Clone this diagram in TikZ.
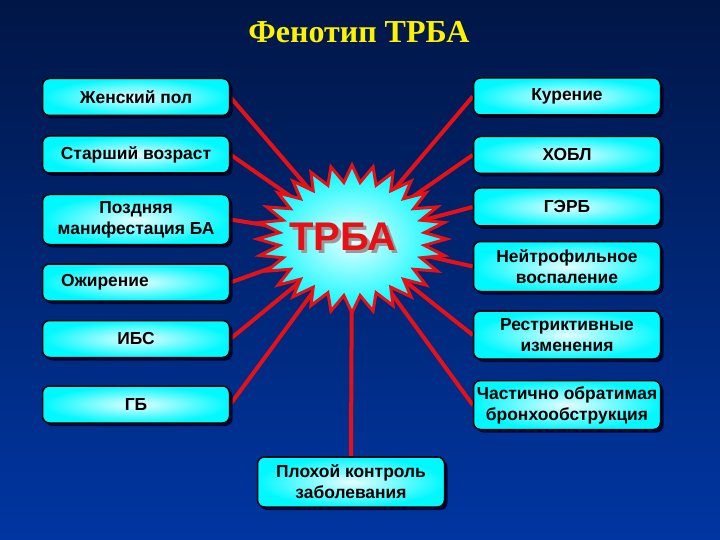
\documentclass[tikz,border=0pt]{standalone}
\usepackage{fontspec}
\setmainfont{Liberation Sans}
\newfontfamily\titlefont{Liberation Serif}
\usetikzlibrary{positioning,shapes.geometric,shadows,backgrounds}

\definecolor{bgtop}{RGB}{0,22,70}
\definecolor{bgbot}{RGB}{0,54,162}
\definecolor{linkred}{RGB}{232,16,20}
\definecolor{boxcyan}{RGB}{0,248,255}

\tikzset{
  factor/.style={draw=black, line width=1.5pt, rounded corners=7pt,
    inner color=boxcyan!10!white, outer color=boxcyan,
    drop shadow={shadow xshift=3pt, shadow yshift=-3pt, opacity=0.85, fill=black!85!blue},
    minimum width=187pt, minimum height=37pt, inner sep=0pt, align=center,
    font=\bfseries\fontsize{17.4}{21}\selectfont},
  link/.style={draw=linkred, line width=4pt},
  burst/.style={star, star points=28, star point ratio=1.3, minimum size=148pt,
    inner sep=0pt, draw=linkred, line width=3pt, inner color=boxcyan!8!white, outer color=boxcyan},
  bigword/.style={anchor=base, text=linkred, font=\bfseries\fontsize{40}{40}\selectfont},
}
\newcommand{\shadedword}[1]{\makebox[0pt][l]{\hspace{3pt}\raisebox{-3pt}{\color{black!40}#1}}#1}

\begin{document}
\begin{tikzpicture}[x=1pt, y=1pt]
    \useasboundingbox (0,0) rectangle (720,-540);

    \node [anchor=base, text=yellow, font=\titlefont\bfseries\fontsize{32}{36}\selectfont] (title) at (359,-43) {Фенотип ТРБА};

    % left column
    \node [factor] (female) at (136,-97) {Женский пол};
    \node [factor, below=19pt of female] (older) {Старший возраст};
    \node [factor, minimum height=50pt, below=20pt of older] (late) {Поздняя\\манифестация БА};
    \node [factor, text width=150pt, align=left, below=18pt of late] (obese) {Ожирение};
    \node [factor, below=18pt of obese] (ihd) {ИБС};
    \node [factor, below=27pt of ihd] (htn) {ГБ};

    % right column
    \node [factor] (smoke) at (567,-96.5) {Курение};
    \node [factor, below=20pt of smoke] (copd) {ХОБЛ};
    \node [factor, minimum height=38pt, below=13pt of copd] (gerd) {ГЭРБ};
    \node [factor, minimum height=50pt, below=14pt of gerd] (neutro) {Нейтрофильное\\воспаление};
    \node [factor, minimum height=48pt, below=18pt of neutro] (restrict) {Рестриктивные\\изменения};
    \node [factor, minimum height=49pt, below=20pt of restrict] (revers) {Частично обратимая\\бронхообструкция};

    % bottom
    \node [factor, minimum height=50pt] (control) at (351,-482) {Плохой контроль\\заболевания};

    \coordinate (hub) at (352,-239);

    \begin{scope}[on background layer]
        \shade [top color=bgtop, bottom color=bgbot] (0,0) rectangle (720,-540);
        \foreach \n in {female,older,late,obese,ihd,htn}
            \draw [link] (hub) -- (\n.east);
        \foreach \n in {smoke,copd,gerd,neutro,restrict,revers}
            \draw [link] (hub) -- (\n.west);
        \draw [link] (hub) -- (control.north);
    \end{scope}

    % centre
    \node [burst, xscale=1.28] (burst) at (hub) {};
    \node [bigword] (trba) at (343,-250) {\shadedword{ТРБА}};
\end{tikzpicture}
\end{document}
